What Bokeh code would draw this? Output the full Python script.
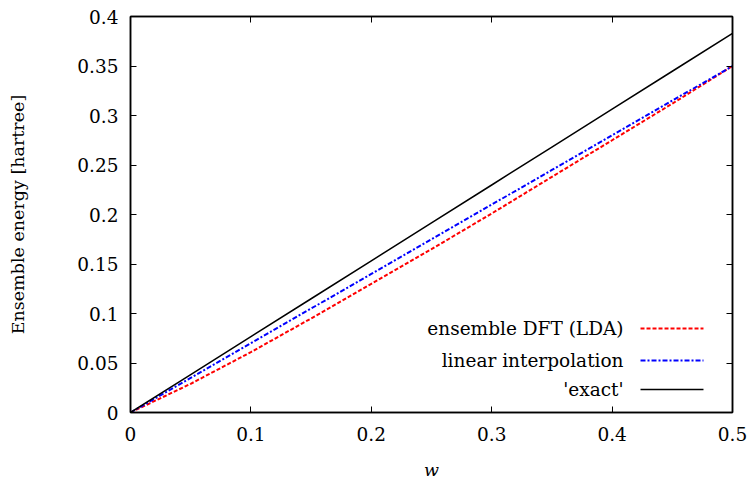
from bokeh.plotting import figure
from bokeh.models import LinearAxis, FixedTicker, Label
from bokeh.embed import file_html
from bokeh.resources import INLINE

w = [0, 0.05, 0.1, 0.15, 0.2, 0.25, 0.3, 0.35, 0.4, 0.45, 0.5]
exact = [0, 0.0383, 0.0766, 0.1149, 0.1532, 0.1915, 0.2298, 0.2681, 0.3064, 0.3447, 0.383]
interp = [0, 0.035, 0.07, 0.105, 0.14, 0.175, 0.21, 0.245, 0.28, 0.315, 0.35]
lda = [0, 0.029, 0.061, 0.095, 0.130, 0.165, 0.201, 0.238, 0.275, 0.312, 0.35]

xticks = [0, 0.1, 0.2, 0.3, 0.4, 0.5]
xtick_labels = ["0", "0.1", "0.2", "0.3", "0.4", "0.5"]
yticks = [0, 0.05, 0.1, 0.15, 0.2, 0.25, 0.3, 0.35, 0.4]
ytick_labels = ["0", "0.05", "0.1", "0.15", "0.2", "0.25", "0.3", "0.35", "0.4"]

series_labels = ["ensemble DFT (LDA)", "linear interpolation", "'exact'"]

FONT = "DejaVu Serif"
FS = "18.5px"

p = figure(frame_width=602, frame_height=396, x_range=(0, 0.5), y_range=(0, 0.4),
           output_backend="svg", toolbar_location=None,
           min_border_left=130, min_border_right=19, min_border_top=16, min_border_bottom=60)
p.grid.visible = False
p.outline_line_color = "black"
p.outline_line_width = 1.5
p.background_fill_color = "white"
p.border_fill_color = "white"

for ax, ticks, labels in [(p.xaxis[0], xticks, xtick_labels), (p.yaxis[0], yticks, ytick_labels)]:
    ax.ticker = FixedTicker(ticks=ticks)
    ax.major_label_overrides = {t: l for t, l in zip(ticks, labels)}
    ax.major_tick_in = 6
    ax.major_tick_out = 0
    ax.minor_tick_line_color = None
    ax.major_label_text_font = FONT
    ax.major_label_text_font_size = FS
    ax.major_label_text_color = "black"
    ax.axis_label_text_font = FONT
    ax.axis_label_text_font_size = "17.5px"
    ax.axis_label_text_font_style = "normal"
    ax.axis_label_text_color = "black"
    ax.axis_line_color = "black"
    ax.axis_line_width = 1.5

p.xaxis[0].axis_label = "w"
p.xaxis[0].axis_label_text_font_style = "italic"
p.xaxis[0].major_label_standoff = 14
p.xaxis[0].axis_label_standoff = 16
p.yaxis[0].axis_label = "Ensemble energy [hartree]"
p.yaxis[0].major_label_standoff = 12
p.yaxis[0].axis_label_standoff = 46

for loc, ticks in [("above", xticks), ("right", yticks)]:
    ax = LinearAxis(ticker=FixedTicker(ticks=ticks), major_tick_in=6, major_tick_out=0,
                    minor_tick_line_color=None,
                    major_label_overrides={t: "" for t in ticks},
                    major_label_standoff=0, axis_line_color="black", axis_line_width=1.5)
    p.add_layout(ax, loc)

p.line(w, lda, line_color="#ff0000", line_width=2, line_dash="4 2")
p.line(w, interp, line_color="#0000ff", line_width=2, line_dash="5 2 2 2")
p.line(w, exact, line_color="black", line_width=1.5)

# legend (text left of sample)
leg_y = [0.0848, 0.0525, 0.0232]
styles = [("#ff0000", 2, "4 2"), ("#0000ff", 2, "5 2 2 2"), ("black", 1.5, "solid")]
for lab, yy, (c, lw, dash) in zip(series_labels, leg_y, styles):
    p.add_layout(Label(x=0.4095, y=yy, text=lab, text_align="right", text_baseline="middle",
                       text_font=FONT, text_font_size=FS, text_color="black"))
    p.segment(x0=[0.4236], y0=[yy], x1=[0.4759], y1=[yy], line_color=c, line_width=lw, line_dash=dash)

open("out.html", "w").write(file_html(p, INLINE))
